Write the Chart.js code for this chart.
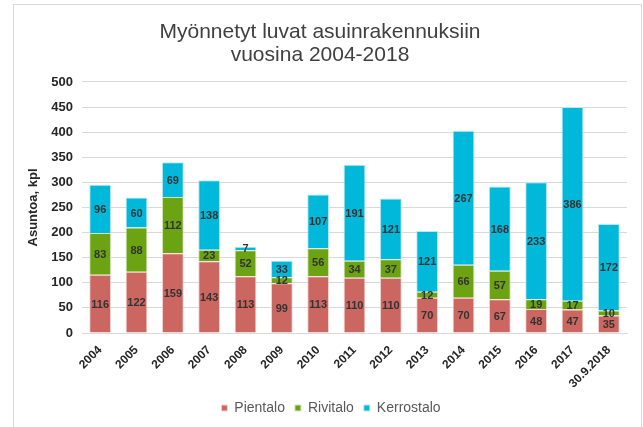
<!DOCTYPE html>
<html>
<head>
<meta charset="utf-8">
<script src="https://cdn.jsdelivr.net/npm/chart.js@4/dist/chart.umd.min.js"></script>
<style>
  html, body { margin: 0; padding: 0; background: #fff; }
  #wrap { width: 643px; height: 427px; position: relative; }
</style>
</head>
<body>
<div id="wrap"><canvas id="chart" width="643" height="427"></canvas></div>
<script>
// ===== data =====
const years = ['2004','2005','2006','2007','2008','2009','2010','2011','2012','2013','2014','2015','2016','2017','30.9.2018'];
const pientalo   = [116, 122, 159, 143, 113, 99, 113, 110, 110, 70, 70, 67, 48, 47, 35];
const rivitalo   = [83, 88, 112, 23, 52, 12, 56, 34, 37, 12, 66, 57, 19, 17, 10];
const kerrostalo = [96, 60, 69, 138, 7, 33, 107, 191, 121, 121, 267, 168, 233, 386, 172];
const yTicks = [0, 50, 100, 150, 200, 250, 300, 350, 400, 450, 500];

// ===== value labels inside segments =====
const segLabels = {
  id: 'segLabels',
  afterDatasetsDraw(chart) {
    const ctx = chart.ctx;
    ctx.save();
    ctx.font = 'bold 11px "Liberation Sans", Arial, sans-serif';
    ctx.fillStyle = '#333333';
    ctx.textAlign = 'center';
    ctx.textBaseline = 'middle';
    chart.data.datasets.forEach((ds, i) => {
      const meta = chart.getDatasetMeta(i);
      meta.data.forEach((bar, j) => {
        const p = bar.getProps(['x', 'y', 'base'], true);
        ctx.fillText(ds.data[j], p.x, (p.y + p.base) / 2 + 1);
      });
    });
    ctx.restore();
  }
};

// ===== outer frame + legend nudge =====
const frame = {
  id: 'frame',
  afterLayout(chart) {
    // legend in the original sits a bit right of centre
    chart.legend.left += 11;
    chart.legend.right += 11;
  },
  beforeDraw(chart) {
    const ctx = chart.ctx;
    ctx.save();
    ctx.strokeStyle = '#d9d9d9';
    ctx.lineWidth = 1;
    ctx.strokeRect(13.5, 4.5, 628, 460);
    ctx.restore();
  }
};

new Chart(document.getElementById('chart'), {
  type: 'bar',
  data: {
    labels: years,
    datasets: [
      { label: 'Pientalo', data: pientalo, backgroundColor: '#CC6660', borderColor: '#f2d6d4', borderWidth: 1 },
      { label: 'Rivitalo', data: rivitalo, backgroundColor: '#6BA313', borderColor: '#d4e6b8', borderWidth: 1 },
      { label: 'Kerrostalo', data: kerrostalo, backgroundColor: '#00B8D9', borderColor: '#b8e8f2', borderWidth: 1 }
    ]
  },
  options: {
    responsive: false,
    animation: false,
    devicePixelRatio: 1,
    layout: { padding: { left: 13, right: 16, top: 0, bottom: 2 } },
    datasets: { bar: { barPercentage: 0.6, categoryPercentage: 1 } },
    plugins: {
      title: {
        display: true,
        text: ['Myönnetyt luvat asuinrakennuksiin', 'vuosina 2004-2018'],
        color: '#404040',
        font: { family: '"Liberation Sans", Arial, sans-serif', size: 21, weight: 'normal', lineHeight: 1.07 },
        padding: { top: 21, bottom: 16 }
      },
      legend: {
        position: 'bottom',
        labels: {
          boxWidth: 6, boxHeight: 6, padding: 10,
          color: '#595959',
          font: { family: '"Liberation Sans", Arial, sans-serif', size: 14 }
        }
      },
      tooltip: { enabled: false }
    },
    scales: {
      x: {
        stacked: true,
        grid: { display: false },
        border: { color: '#d9d9d9' },
        ticks: {
          minRotation: 45, maxRotation: 45, padding: 2,
          color: '#262626',
          font: { family: '"Liberation Sans", Arial, sans-serif', size: 12, weight: 'bold' }
        },
        afterFit(s) { s.height = 58; }
      },
      y: {
        stacked: true,
        min: 0, max: 500,
        afterBuildTicks(s) { s.ticks = yTicks.map(v => ({ value: v })); },
        grid: { color: '#d9d9d9', drawTicks: false },
        border: { display: false },
        ticks: {
          padding: 9,
          color: '#262626',
          font: { family: '"Liberation Sans", Arial, sans-serif', size: 13, weight: 'bold' }
        },
        title: {
          display: true,
          text: 'Asuntoa, kpl',
          color: '#262626',
          font: { family: '"Liberation Sans", Arial, sans-serif', size: 13, weight: 'bold' },
          padding: { top: 13, bottom: 0 }
        },
        afterFit(s) { s.width = 69; }
      }
    }
  },
  plugins: [segLabels, frame]
});
</script>
</body>
</html>
